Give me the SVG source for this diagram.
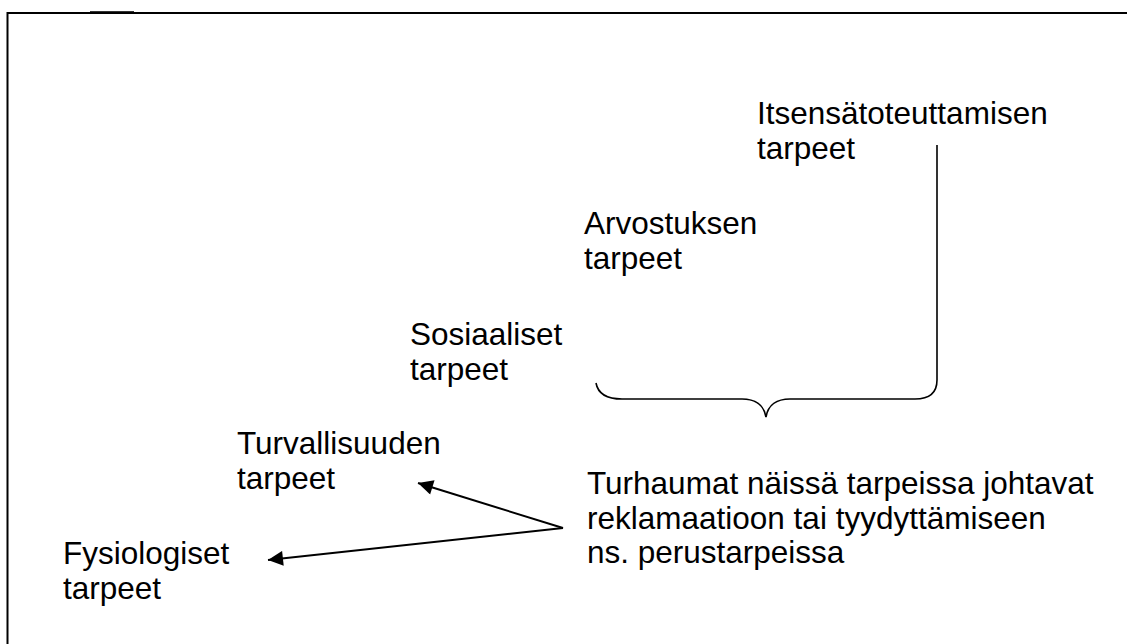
<svg xmlns="http://www.w3.org/2000/svg" width="1127" height="644" viewBox="0 0 1127 644">
<style>
text{font-family:"Liberation Sans",Arial,sans-serif;font-size:31.5px;fill:#000}
.frame{stroke:#000;stroke-width:2;fill:none}
.brace{stroke:#000;stroke-width:1.6;fill:none}
.arrow{stroke:#000;stroke-width:2;fill:none;marker-end:url(#ah)}
</style>
<defs>
<marker id="ah" viewBox="0 0 10 10" refX="10" refY="5" markerWidth="10" markerHeight="7.5" markerUnits="strokeWidth" orient="auto">
<path d="M0,0 L10,5 L0,10 z" fill="#000"/>
</marker>
</defs>
<rect width="1127" height="644" fill="#fff"/>
<g id="frame">
<path class="frame" d="M7.5,644 L7.5,13 L1127,13"/>
<path d="M90,11.5 L134,11.5" stroke="#333" stroke-width="1.2"/>
</g>
<g id="itsensatoteuttaminen"><text x="757" y="124">Itsensätoteuttamisen</text><text x="757" y="159">tarpeet</text></g>
<g id="arvostus"><text x="584" y="234">Arvostuksen</text><text x="584" y="269">tarpeet</text></g>
<g id="sosiaaliset"><text x="410" y="345">Sosiaaliset</text><text x="410" y="380">tarpeet</text></g>
<g id="turvallisuus"><text x="237" y="454">Turvallisuuden</text><text x="237" y="489">tarpeet</text></g>
<g id="fysiologiset"><text x="63" y="564">Fysiologiset</text><text x="63" y="599">tarpeet</text></g>
<g id="turhaumat"><text x="587" y="494">Turhaumat näissä tarpeissa johtavat</text><text x="587" y="529">reklamaatioon tai tyydyttämiseen</text><text x="587" y="563">ns. perustarpeissa</text></g>
<g id="connectors">
<path class="brace" d="M596,383 C598,394 608,399 622,399 L742,399 C755,399 764,405 766,417 C768,405 777,399 790,399 L915,399 C930,399 937,392 937,380 L937,145"/>
<path class="arrow" d="M563,528 L418,483"/>
<path class="arrow" d="M563,528 L268,560"/>
</g>
</svg>
